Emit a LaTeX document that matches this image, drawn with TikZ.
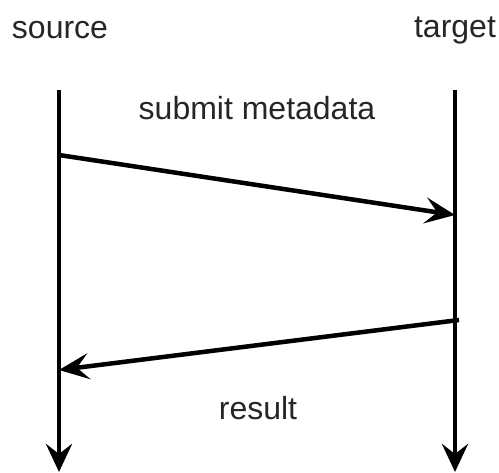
\documentclass[tikz,border=0pt]{standalone}
\usepackage{fontspec}
\setmainfont{Liberation Sans}
\usetikzlibrary{arrows.meta}
\begin{document}
\begin{tikzpicture}[x=1pt,y=-1pt,
  lbl/.style={font=\fontsize{32}{37}\selectfont, inner sep=0pt, text=black!85},
  life/.style={line width=4.5pt, -{Stealth[length=28pt,width=26pt,inset=10pt]}},
  msg/.style={line width=4.5pt, -{Stealth[length=30pt,width=26pt,inset=12pt]}}]
\useasboundingbox (0,0) rectangle (499,473);
\node[lbl] (src) at (60,30) {source};
\node[lbl] (tgt) at (455,30) {target};
\coordinate (s0) at (59,90);
\coordinate (s1) at (59,472);
\coordinate (t0) at (455,90);
\coordinate (t1) at (455,472);
\draw[life] (s0) -- (s1);
\draw[life] (t0) -- (t1);
\coordinate (m1a) at (59,155);
\coordinate (m1b) at (455,215);
\coordinate (m2a) at (459,320);
\coordinate (m2b) at (59,370);
\draw[msg] (m1a) -- (m1b);
\draw[msg] (m2a) -- (m2b);
\node[lbl] (sub) at (257,108) {submit metadata};
\node[lbl] (res) at (258,408) {result};
\end{tikzpicture}
\end{document}
